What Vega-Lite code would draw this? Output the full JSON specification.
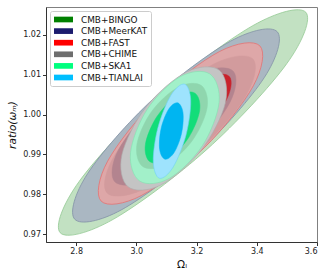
{
  "$schema": "https://vega.github.io/schema/vega-lite/v6.json",
  "width": 271,
  "height": 235,
  "autosize": {"type": "none"},
  "padding": {"left": 46, "top": 7, "right": 15, "bottom": 31},
  "background": "white",
  "config": {
    "view": {"stroke": "#808080", "strokeWidth": 1},
    "axis": {"labelFont": "DejaVu Sans", "labelFontSize": 8, "labelColor": "#222", "titleFont": "DejaVu Sans", "titleFontWeight": "normal", "titleColor": "#111", "grid": false, "domainColor": "#333", "tickColor": "#333", "tickSize": 3.5, "labelPadding": 2},
    "legend": {"title": null, "orient": "top-left", "offset": 4, "symbolType": "M-2,-0.6H2V0.6H-2Z", "symbolSize": 90, "symbolOpacity": 1, "symbolStrokeWidth": 0, "labelFont": "DejaVu Sans", "labelFontSize": 8.9, "labelColor": "#111", "labelOffset": 12.5, "rowPadding": 1.6, "padding": 3.5, "strokeColor": "#cccccc", "cornerRadius": 2, "fillColor": "white", "symbolOffset": 5}
  },
  "data": {"values": [
    {"e":"B95","s":"CMB+BINGO","p":0,"x":3.5629,"y":1.025667},{"e":"B95","s":"CMB+BINGO","p":1,"x":3.4999,"y":1.012807},{"e":"B95","s":"CMB+BINGO","p":2,"x":3.2348,"y":0.991275},{"e":"B95","s":"CMB+BINGO","p":3,"x":2.9231,"y":0.973683},{"e":"B95","s":"CMB+BINGO","p":4,"x":2.7471,"y":0.970337},{"e":"B95","s":"CMB+BINGO","p":5,"x":2.8101,"y":0.983197},{"e":"B95","s":"CMB+BINGO","p":6,"x":3.0752,"y":1.004729},{"e":"B95","s":"CMB+BINGO","p":7,"x":3.3870,"y":1.022321},
    {"e":"M95","s":"CMB+MeerKAT","p":0,"x":3.4680,"y":1.020789},{"e":"M95","s":"CMB+MeerKAT","p":1,"x":3.4254,"y":1.009335},{"e":"M95","s":"CMB+MeerKAT","p":2,"x":3.2107,"y":0.990802},{"e":"M95","s":"CMB+MeerKAT","p":3,"x":2.9498,"y":0.976045},{"e":"M95","s":"CMB+MeerKAT","p":4,"x":2.7955,"y":0.973709},{"e":"M95","s":"CMB+MeerKAT","p":5,"x":2.8381,"y":0.985163},{"e":"M95","s":"CMB+MeerKAT","p":6,"x":3.0528,"y":1.003696},{"e":"M95","s":"CMB+MeerKAT","p":7,"x":3.3137,"y":1.018453},
    {"e":"F95","s":"CMB+FAST","p":0,"x":3.4101,"y":1.017251},{"e":"F95","s":"CMB+FAST","p":1,"x":3.3888,"y":1.007227},{"e":"F95","s":"CMB+FAST","p":2,"x":3.2257,"y":0.991652},{"e":"F95","s":"CMB+FAST","p":3,"x":3.0163,"y":0.979649},{"e":"F95","s":"CMB+FAST","p":4,"x":2.8833,"y":0.978251},{"e":"F95","s":"CMB+FAST","p":5,"x":2.9046,"y":0.988275},{"e":"F95","s":"CMB+FAST","p":6,"x":3.0676,"y":1.003850},{"e":"F95","s":"CMB+FAST","p":7,"x":3.2771,"y":1.015853},
    {"e":"B68","s":"CMB+BINGO","p":0,"x":3.3875,"y":1.013915},{"e":"B68","s":"CMB+BINGO","p":1,"x":3.3656,"y":1.004940},{"e":"B68","s":"CMB+BINGO","p":2,"x":3.2146,"y":0.991385},{"e":"B68","s":"CMB+BINGO","p":3,"x":3.0228,"y":0.981192},{"e":"B68","s":"CMB+BINGO","p":4,"x":2.9026,"y":0.980331},{"e":"B68","s":"CMB+BINGO","p":5,"x":2.9244,"y":0.989306},{"e":"B68","s":"CMB+BINGO","p":6,"x":3.0755,"y":1.002861},{"e":"B68","s":"CMB+BINGO","p":7,"x":3.2673,"y":1.013054},
    {"e":"M68","s":"CMB+MeerKAT","p":0,"x":3.3219,"y":1.010867},{"e":"M68","s":"CMB+MeerKAT","p":1,"x":3.3107,"y":1.003040},{"e":"M68","s":"CMB+MeerKAT","p":2,"x":3.1908,"y":0.991672},{"e":"M68","s":"CMB+MeerKAT","p":3,"x":3.0324,"y":0.983424},{"e":"M68","s":"CMB+MeerKAT","p":4,"x":2.9284,"y":0.983127},{"e":"M68","s":"CMB+MeerKAT","p":5,"x":2.9395,"y":0.990954},{"e":"M68","s":"CMB+MeerKAT","p":6,"x":3.0594,"y":1.002322},{"e":"M68","s":"CMB+MeerKAT","p":7,"x":3.2178,"y":1.010570},
    {"e":"F68","s":"CMB+FAST","p":0,"x":3.3089,"y":1.009543},{"e":"F68","s":"CMB+FAST","p":1,"x":3.2945,"y":1.003005},{"e":"F68","s":"CMB+FAST","p":2,"x":3.1867,"y":0.993242},{"e":"F68","s":"CMB+FAST","p":3,"x":3.0486,"y":0.985973},{"e":"F68","s":"CMB+FAST","p":4,"x":2.9612,"y":0.985457},{"e":"F68","s":"CMB+FAST","p":5,"x":2.9756,"y":0.991995},{"e":"F68","s":"CMB+FAST","p":6,"x":3.0835,"y":1.001758},{"e":"F68","s":"CMB+FAST","p":7,"x":3.2215,"y":1.009027},
    {"e":"C95","s":"CMB+CHIME","p":0,"x":3.2754,"y":1.011135},{"e":"C95","s":"CMB+CHIME","p":1,"x":3.2959,"y":1.003022},{"e":"C95","s":"CMB+CHIME","p":2,"x":3.2157,"y":0.991085},{"e":"C95","s":"CMB+CHIME","p":3,"x":3.0819,"y":0.982318},{"e":"C95","s":"CMB+CHIME","p":4,"x":2.9728,"y":0.981855},{"e":"C95","s":"CMB+CHIME","p":5,"x":2.9523,"y":0.989968},{"e":"C95","s":"CMB+CHIME","p":6,"x":3.0325,"y":1.001905},{"e":"C95","s":"CMB+CHIME","p":7,"x":3.1664,"y":1.010672},
    {"e":"S95","s":"CMB+SKA1","p":0,"x":3.2438,"y":1.010206},{"e":"S95","s":"CMB+SKA1","p":1,"x":3.2748,"y":1.003064},{"e":"S95","s":"CMB+SKA1","p":2,"x":3.2196,"y":0.992221},{"e":"S95","s":"CMB+SKA1","p":3,"x":3.1106,"y":0.984028},{"e":"S95","s":"CMB+SKA1","p":4,"x":3.0117,"y":0.983286},{"e":"S95","s":"CMB+SKA1","p":5,"x":2.9808,"y":0.990428},{"e":"S95","s":"CMB+SKA1","p":6,"x":3.0360,"y":1.001271},{"e":"S95","s":"CMB+SKA1","p":7,"x":3.1450,"y":1.009464},
    {"e":"C68","s":"CMB+CHIME","p":0,"x":3.2161,"y":1.007279},{"e":"C68","s":"CMB+CHIME","p":1,"x":3.2350,"y":1.001695},{"e":"C68","s":"CMB+CHIME","p":2,"x":3.1856,"y":0.993434},{"e":"C68","s":"CMB+CHIME","p":3,"x":3.0970,"y":0.987333},{"e":"C68","s":"CMB+CHIME","p":4,"x":3.0209,"y":0.986967},{"e":"C68","s":"CMB+CHIME","p":5,"x":3.0020,"y":0.992551},{"e":"C68","s":"CMB+CHIME","p":6,"x":3.0513,"y":1.000812},{"e":"C68","s":"CMB+CHIME","p":7,"x":3.1400,"y":1.006913},
    {"e":"S68","s":"CMB+SKA1","p":0,"x":3.1947,"y":1.005360},{"e":"S68","s":"CMB+SKA1","p":1,"x":3.2102,"y":1.000990},{"e":"S68","s":"CMB+SKA1","p":2,"x":3.1729,"y":0.994134},{"e":"S68","s":"CMB+SKA1","p":3,"x":3.1047,"y":0.988808},{"e":"S68","s":"CMB+SKA1","p":4,"x":3.0456,"y":0.988132},{"e":"S68","s":"CMB+SKA1","p":5,"x":3.0301,"y":0.992502},{"e":"S68","s":"CMB+SKA1","p":6,"x":3.0673,"y":0.999358},{"e":"S68","s":"CMB+SKA1","p":7,"x":3.1355,"y":1.004684},
    {"e":"T95","s":"CMB+TIANLAI","p":0,"x":3.1598,"y":1.007638},{"e":"T95","s":"CMB+TIANLAI","p":1,"x":3.1806,"y":1.003518},{"e":"T95","s":"CMB+TIANLAI","p":2,"x":3.1650,"y":0.994887},{"e":"T95","s":"CMB+TIANLAI","p":3,"x":3.1222,"y":0.986800},{"e":"T95","s":"CMB+TIANLAI","p":4,"x":3.0772,"y":0.983996},{"e":"T95","s":"CMB+TIANLAI","p":5,"x":3.0563,"y":0.988116},{"e":"T95","s":"CMB+TIANLAI","p":6,"x":3.0719,"y":0.996747},{"e":"T95","s":"CMB+TIANLAI","p":7,"x":3.1148,"y":1.004834},
    {"e":"T68","s":"CMB+TIANLAI","p":0,"x":3.1369,"y":1.002952},{"e":"T68","s":"CMB+TIANLAI","p":1,"x":3.1549,"y":1.000474},{"e":"T68","s":"CMB+TIANLAI","p":2,"x":3.1502,"y":0.995298},{"e":"T68","s":"CMB+TIANLAI","p":3,"x":3.1255,"y":0.990456},{"e":"T68","s":"CMB+TIANLAI","p":4,"x":3.0954,"y":0.988784},{"e":"T68","s":"CMB+TIANLAI","p":5,"x":3.0774,"y":0.991262},{"e":"T68","s":"CMB+TIANLAI","p":6,"x":3.0821,"y":0.996438},{"e":"T68","s":"CMB+TIANLAI","p":7,"x":3.1068,"y":1.001280}
  ]},
  "encoding": {
    "x": {"field": "x", "type": "quantitative", "scale": {"domain": [2.7, 3.6], "nice": false, "zero": false}, "axis": {"values": [2.8, 3.0, 3.2, 3.4, 3.6], "format": ".1f", "title": "Ωₗ", "titleFontSize": 10.5, "titlePadding": 4}},
    "y": {"field": "y", "type": "quantitative", "scale": {"domain": [0.968, 1.027], "nice": false, "zero": false}, "axis": {"values": [0.97, 0.98, 0.99, 1.0, 1.01, 1.02], "format": ".2f", "title": "ratio(ωₘ)", "titleFontSize": 10.5, "titleFontStyle": "italic", "titlePadding": 5}},
    "order": {"field": "p", "type": "quantitative"}
  },
  "layer": [
    {"transform": [{"filter": "datum.e == 'B95'"}], "mark": {"type": "line", "interpolate": "cardinal-closed", "fill": "#c2e1c2", "stroke": "#93c993", "strokeWidth": 0.8}},
    {"transform": [{"filter": "datum.e == 'M95'"}], "mark": {"type": "line", "interpolate": "cardinal-closed", "fill": "#aab7c2", "stroke": "#8190a6", "strokeWidth": 0.8}},
    {"transform": [{"filter": "datum.e == 'F95'"}], "mark": {"type": "line", "interpolate": "cardinal-closed", "fill": "#dea7a8", "stroke": "#e57272", "strokeWidth": 0.8}},
    {"transform": [{"filter": "datum.e == 'B68'"}], "mark": {"type": "line", "interpolate": "cardinal-closed", "fill": "#d29b9d", "stroke": "#d29b9d", "strokeWidth": 0.5}},
    {"transform": [{"filter": "datum.e == 'M68'"}], "mark": {"type": "line", "interpolate": "cardinal-closed", "fill": "#b3848f", "stroke": "#b3848f", "strokeWidth": 0.5}},
    {"transform": [{"filter": "datum.e == 'F68'"}], "mark": {"type": "line", "interpolate": "cardinal-closed", "fill": "#c9222c", "stroke": "#c9222c", "strokeWidth": 0.5}},
    {"transform": [{"filter": "datum.e == 'C95'"}], "mark": {"type": "line", "interpolate": "cardinal-closed", "fill": "#c4c4c4", "stroke": "#adadad", "strokeWidth": 0.6}},
    {"transform": [{"filter": "datum.e == 'S95'"}], "mark": {"type": "line", "interpolate": "cardinal-closed", "fill": "#a2f0c9", "stroke": "#80e6b0", "strokeWidth": 0.6}},
    {"transform": [{"filter": "datum.e == 'C68'"}], "mark": {"type": "line", "interpolate": "cardinal-closed", "fill": "#8fd6ae", "stroke": "#8fd6ae", "strokeWidth": 0.5}},
    {"transform": [{"filter": "datum.e == 'S68'"}], "mark": {"type": "line", "interpolate": "cardinal-closed", "fill": "#13dd79", "stroke": "#13dd79", "strokeWidth": 0.5}},
    {"transform": [{"filter": "datum.e == 'T95'"}], "mark": {"type": "line", "interpolate": "cardinal-closed", "fill": "#9ee3fd", "stroke": "#70d2f5", "strokeWidth": 0.6}},
    {"transform": [{"filter": "datum.e == 'T68'"}], "mark": {"type": "line", "interpolate": "cardinal-closed", "fill": "#00b5f1", "stroke": "#00b5f1", "strokeWidth": 0.5}},
    {"mark": {"type": "point", "filled": true, "opacity": 0, "size": 1},
     "encoding": {"color": {"field": "s", "type": "nominal", "sort": ["CMB+BINGO", "CMB+MeerKAT", "CMB+FAST", "CMB+CHIME", "CMB+SKA1", "CMB+TIANLAI"], "scale": {"domain": ["CMB+BINGO", "CMB+MeerKAT", "CMB+FAST", "CMB+CHIME", "CMB+SKA1", "CMB+TIANLAI"], "range": ["#008000", "#1c1c6e", "#ff0000", "#6e6e6e", "#00ff7f", "#00bfff"]}}}}
  ]
}
